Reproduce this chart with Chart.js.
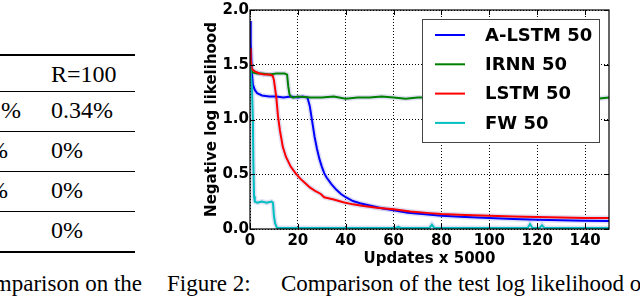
<!DOCTYPE html>
<html>
<head>
<meta charset="utf-8">
<script src="https://cdn.jsdelivr.net/npm/chart.js@4"></script>
<style>
  html, body { margin: 0; padding: 0; background: #fff; }
  #page { position: relative; width: 640px; height: 296px; overflow: hidden; color: #000;
          font-family: "Liberation Serif", "DejaVu Serif", serif; }
  .rule { position: absolute; left: 0; width: 135px; background: #000; }
  .cell { position: absolute; font-size: 24px; line-height: 24px; white-space: nowrap; }
  .cap { position: absolute; top: 272px; font-size: 23px; line-height: 23px; white-space: nowrap; }
  #wrap { position: absolute; left: 190px; top: 0; width: 450px; height: 272px; }
</style>
</head>
<body>
<div id="page">
  <!-- table fragment on the left -->
  <div class="rule" style="top:54px;height:2px"></div>
  <div class="rule" style="top:91px;height:1px"></div>
  <div class="rule" style="top:131px;height:1px"></div>
  <div class="rule" style="top:171px;height:1px"></div>
  <div class="rule" style="top:211px;height:1px"></div>
  <div class="rule" style="top:251px;height:2px"></div>
  <div class="cell" style="left:51px;top:62px">R=100</div>
  <div class="cell" style="left:1px;top:98px">%</div>
  <div class="cell" style="left:51px;top:98px">0.34%</div>
  <div class="cell" style="left:-12px;top:138px">%</div>
  <div class="cell" style="left:51px;top:138px">0%</div>
  <div class="cell" style="left:-12px;top:178px">%</div>
  <div class="cell" style="left:51px;top:178px">0%</div>
  <div class="cell" style="left:51px;top:218px">0%</div>

  <!-- captions -->
  <div class="cap" style="right:498px">Comparison on the</div>
  <div class="cap" style="left:167px">Figure 2:</div>
  <div class="cap" style="left:281px">Comparison of the test log likelihood of</div>

  <div id="wrap"><canvas id="c" width="450" height="272"></canvas></div>
</div>

<script>
// Data (x = updates / 5000, y = negative log likelihood)
const xTicks = [0, 20, 40, 60, 80, 100, 120, 140];
const yTicks = [0, 0.5, 1.0, 1.5, 2.0];

const alstmX = [0, 0.3, 0.7, 1.2, 2, 3, 5, 8, 11, 14, 17, 20, 22, 24, 25, 26, 27, 28, 29, 30, 31, 32, 34, 36, 38, 40, 43, 46, 50, 55, 60, 66, 72, 80, 90, 100, 110, 120, 130, 140, 150];
const alstmY = [1.90, 1.70, 1.45, 1.32, 1.27, 1.24, 1.22, 1.21, 1.21, 1.20, 1.21, 1.20, 1.21, 1.20, 1.12, 0.98, 0.84, 0.73, 0.64, 0.57, 0.51, 0.47, 0.41, 0.36, 0.32, 0.29, 0.255, 0.235, 0.215, 0.19, 0.17, 0.148, 0.138, 0.122, 0.11, 0.10, 0.092, 0.084, 0.08, 0.076, 0.073];

const irnnX = [0, 0.5, 1, 3, 5, 8, 11, 13, 14.5, 15.5, 16, 16.5, 17, 18, 20, 25, 30, 35, 40, 45, 50, 55, 60, 65, 70, 75, 80, 85, 90, 95, 100, 105, 110, 115, 120, 125, 130, 135, 140, 145, 150];
const irnnY = [1.50, 1.45, 1.43, 1.42, 1.42, 1.41, 1.42, 1.42, 1.42, 1.41, 1.30, 1.23, 1.21, 1.20, 1.21, 1.20, 1.20, 1.21, 1.19, 1.20, 1.20, 1.21, 1.20, 1.19, 1.20, 1.20, 1.21, 1.20, 1.19, 1.20, 1.20, 1.21, 1.20, 1.20, 1.19, 1.20, 1.21, 1.20, 1.20, 1.19, 1.20];

const lstmX = [0, 0.3, 0.8, 2, 4, 6, 8, 9.5, 10, 10.5, 11, 11.7, 12.5, 13.7, 15, 17, 19, 21, 23, 25, 27, 29.6, 31, 35, 39, 43, 47.5, 53, 60, 67, 75, 80, 90, 100, 110, 120, 130, 140, 150];
const lstmY = [1.65, 1.55, 1.46, 1.44, 1.42, 1.41, 1.41, 1.40, 1.36, 1.28, 1.20, 1.03, 0.90, 0.75, 0.66, 0.57, 0.51, 0.46, 0.42, 0.38, 0.35, 0.32, 0.29, 0.27, 0.245, 0.225, 0.21, 0.195, 0.18, 0.16, 0.145, 0.137, 0.128, 0.12, 0.115, 0.11, 0.105, 0.10, 0.10];

const fwX = [0, 0.8, 1.2, 1.4, 1.7, 2, 3, 5, 7, 9, 9.6, 10, 10.5, 11.3, 13, 20, 40, 61, 62, 63, 75, 76, 77, 100, 116, 117, 118, 121, 122, 123, 140, 150];
const fwY = [1.50, 1.30, 1.00, 0.60, 0.30, 0.25, 0.24, 0.25, 0.24, 0.25, 0.24, 0.12, 0.05, 0.01, 0.01, 0.01, 0.01, 0.01, 0.02, 0.01, 0.01, 0.04, 0.01, 0.01, 0.01, 0.045, 0.01, 0.01, 0.035, 0.01, 0.01, 0.01];

const labels = ['A-LSTM 50', 'IRNN 50', 'LSTM 50', 'FW 50'];
const colors = ['#0000ff', '#008000', '#ff0000', '#00bfbf'];
const xsList = [alstmX, irnnX, lstmX, fwX];
const ysList = [alstmY, irnnY, lstmY, fwY];

const BOLD = 'bold';
const SANS = '"DejaVu Sans", sans-serif';

function points(xs, ys) {
    return xs.map((x, i) => ({ x: x, y: ys[i] }));
}

// Build datasets: pale band underneath, coloured line on top (later series drawn above earlier)
const datasets = [];
labels.forEach((lab, i) => {
    datasets.push({
        label: '',
        data: points(xsList[i], ysList[i]),
        borderColor: 'rgba(160,160,220,0.32)',
        borderWidth: 5,
        pointRadius: 0,
        tension: 0,
        order: 20
    });
});
labels.forEach((lab, i) => {
    datasets.push({
        label: lab,
        data: points(xsList[i], ysList[i]),
        borderColor: colors[i],
        borderWidth: 2,
        pointRadius: 0,
        tension: 0,
        order: 10 - i
    });
});

// Box frame with inward tick marks
const framePlugin = {
    id: 'frame',
    afterDatasetsDraw(chart) {
        const { ctx, chartArea: a, scales } = chart;
        ctx.save();
        ctx.strokeStyle = '#000';
        ctx.lineWidth = 1.2;
        ctx.strokeRect(a.left, a.top, a.right - a.left, a.bottom - a.top);
        ctx.lineWidth = 1;
        ctx.beginPath();
        scales.x.ticks.forEach(t => {
            const px = Math.round(scales.x.getPixelForValue(t.value)) + 0.5;
            ctx.moveTo(px, a.bottom); ctx.lineTo(px, a.bottom - 5);
            ctx.moveTo(px, a.top); ctx.lineTo(px, a.top + 5);
        });
        scales.y.ticks.forEach(t => {
            const py = Math.round(scales.y.getPixelForValue(t.value)) + 0.5;
            ctx.moveTo(a.left, py); ctx.lineTo(a.left + 5, py);
            ctx.moveTo(a.right, py); ctx.lineTo(a.right - 5, py);
        });
        ctx.stroke();
        ctx.restore();
    }
};

// Matplotlib-style boxed legend in the upper right
const boxLegend = {
    id: 'boxLegend',
    afterDraw(chart) {
        const { ctx, chartArea: a } = chart;
        const w = 177, h = 123;
        const left = a.right - 10 - w, top = a.top + 9;
        ctx.save();
        ctx.fillStyle = '#fff';
        ctx.fillRect(left, top, w, h);
        ctx.strokeStyle = '#444';
        ctx.lineWidth = 1;
        ctx.strokeRect(left + 0.5, top + 0.5, w, h);
        ctx.font = 'bold 18px ' + SANS;
        ctx.textBaseline = 'middle';
        ctx.fillStyle = '#000';
        labels.forEach((lab, i) => {
            const y = top + 16 + i * 29.3;
            ctx.strokeStyle = colors[i];
            ctx.lineWidth = 2;
            ctx.beginPath();
            ctx.moveTo(left + 13, y);
            ctx.lineTo(left + 43, y);
            ctx.stroke();
            ctx.fillText(lab, left + 63, y + 1);
        });
        ctx.restore();
    }
};

new Chart(document.getElementById('c'), {
    type: 'line',
    data: { datasets: datasets },
    options: {
        responsive: false,
        animation: false,
        layout: { padding: { top: 8, right: 31, left: 0, bottom: 0 } },
        plugins: { legend: { display: false }, tooltip: { enabled: false } },
        scales: {
            x: {
                type: 'linear',
                min: 0,
                max: 150,
                afterBuildTicks: s => { s.ticks = xTicks.map(v => ({ value: v })); },
                afterFit: s => { s.height = 43; },
                grid: { color: '#000', lineWidth: 1, drawTicks: false },
                border: { display: false, dash: [1, 2] },
                ticks: { color: '#000', padding: 3, maxRotation: 0,
                         font: { family: SANS, size: 15, weight: BOLD } },
                title: { display: true, text: 'Updates x 5000', color: '#000',
                         padding: { top: 0, bottom: 4 },
                         font: { family: SANS, size: 15, weight: BOLD } }
            },
            y: {
                min: 0,
                max: 2,
                afterBuildTicks: s => { s.ticks = yTicks.map(v => ({ value: v })); },
                afterFit: s => { s.width = 60; },
                grid: { color: '#000', lineWidth: 1, drawTicks: false },
                border: { display: false, dash: [1, 2] },
                ticks: { color: '#000', padding: 1,
                         callback: v => Number(v).toFixed(1),
                         font: { family: SANS, size: 15, weight: BOLD } },
                title: { display: true, text: 'Negative log likelihood', color: '#000',
                         padding: { top: 13, bottom: 0 },
                         font: { family: SANS, size: 15, weight: BOLD } }
            }
        }
    },
    plugins: [framePlugin, boxLegend]
});
</script>
</body>
</html>
